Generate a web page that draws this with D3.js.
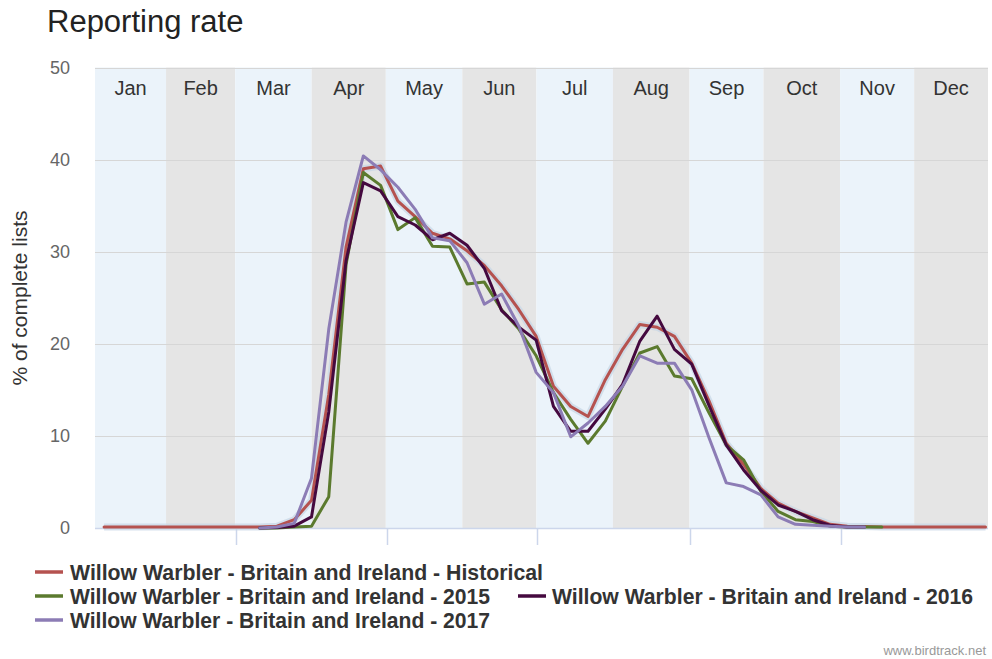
<!DOCTYPE html>
<html><head><meta charset="utf-8">
<script src="https://cdn.jsdelivr.net/npm/d3@7"></script>
<style>body{margin:0;background:#fff}svg{display:block}</style>
</head><body><svg id="c" width="992" height="659"></svg>
<script>
// ---------- data ----------
const months = ["Jan","Feb","Mar","Apr","May","Jun","Jul","Aug","Sep","Oct","Nov","Dec"];
const weeks = d3.range(1, 53); // 52 weekly periods
const yTicks = [0, 10, 20, 30, 40, 50];
const seriesNames = [
  "Willow Warbler - Britain and Ireland - Historical",
  "Willow Warbler - Britain and Ireland - 2015",
  "Willow Warbler - Britain and Ireland - 2016",
  "Willow Warbler - Britain and Ireland - 2017"
];
const historical = [0.1,0.1,0.1,0.1,0.1,0.1,0.1,0.1,0.1,0.1,0.2,0.9,3.0,14.5,30.5,39.0,39.3,35.5,33.8,32.0,31.4,30.1,28.5,26.3,23.7,20.8,15.4,13.2,12.1,16.1,19.4,22.1,21.8,20.8,17.9,13.8,9.2,6.9,4.3,2.7,1.8,1.1,0.4,0.2,0.15,0.1,0.1,0.1,0.1,0.1,0.1,0.1];
const y2015 = [null,null,null,null,null,null,null,null,null,0,0,0.1,0.2,3.4,28.6,38.6,37.2,32.4,33.7,30.6,30.5,26.5,26.7,23.7,21.6,18.7,14.7,11.8,9.2,11.6,15.4,19.0,19.7,16.5,16.2,12.5,9.0,7.4,4.0,1.8,0.9,0.7,0.2,0.1,0.1,0.1,null,null,null,null,null,null];
const y2016 = [null,null,null,null,null,null,null,null,null,0,0.05,0.2,1.2,12.6,29.0,37.5,36.6,33.8,32.9,31.3,32.0,30.7,28.2,23.6,21.8,20.4,13.2,10.5,10.5,12.9,15.6,20.3,23.0,19.4,17.8,13.3,9.0,6.3,4.1,2.5,1.8,0.9,0.3,0.1,0.1,null,null,null,null,null,null,null];
const y2017 = [null,null,null,null,null,null,null,null,null,0,0.1,0.5,5.4,21.6,33.2,40.4,38.9,37.0,34.6,31.5,31.2,28.8,24.3,25.4,21.9,16.9,14.7,9.9,11.4,13.2,15.4,18.7,17.9,17.9,15.0,9.8,4.9,4.5,3.6,1.2,0.4,0.3,0.2,0.1,0.1,null,null,null,null,null,null,null];
const seriesValues = [historical, y2015, y2016, y2017];
const seriesColors = ["#b5524f", "#5b7a2e", "#45093f", "#8c7cb5"];

// ---------- layout ----------
const svg = d3.select("#c");
const P = {left: 95, right: 988, top: 67.5, bottom: 528};
const DAY = 864e5;
const x = d3.scaleUtc()
  .domain([new Date(Date.UTC(2017,0,2,19,40)), new Date(Date.UTC(2017,11,30,12))])
  .range([P.left, P.right]);
const weekDate = w => new Date(Date.UTC(2017,0,1,12) + ((w - 1) * 7 + 5) * DAY);
const y = d3.scaleLinear().domain([0, 50]).range([P.bottom, P.top]);
const clampX = v => Math.max(P.left, Math.min(P.right, v));

// month bands
const bands = svg.append("g");
months.forEach((m, i) => {
  const x0 = clampX(x(new Date(Date.UTC(2017, i, 1))) - 1);
  const x1 = clampX(x(new Date(Date.UTC(2017, i + 1, 1))) - 1);
  bands.append("rect").attr("x", x0).attr("y", P.top).attr("width", x1 - x0)
    .attr("height", P.bottom - P.top).attr("fill", i % 2 === 0 ? "#ebf3fa" : "#e5e5e5");
  bands.append("text").attr("x", (x0 + x1) / 2).attr("y", 95)
    .attr("text-anchor", "middle").attr("font-family", "Liberation Sans, Arial, sans-serif")
    .attr("font-size", 20).attr("fill", "#333").text(m);
});

// grid
svg.append("g").selectAll("line").data(yTicks.filter(d => d > 0)).join("line")
  .attr("x1", P.left).attr("x2", P.right)
  .attr("y1", d => Math.round(y(d)) + 0.5).attr("y2", d => Math.round(y(d)) + 0.5)
  .attr("stroke", "#d6d6d6").attr("stroke-width", 1);

// y axis labels
svg.append("g").selectAll("text").data(yTicks).join("text")
  .attr("x", 70).attr("y", d => y(d) + 6).attr("text-anchor", "end")
  .attr("font-family", "Liberation Sans, Arial, sans-serif").attr("font-size", 18)
  .attr("fill", "#666").text(d => d);

// y title
svg.append("text").attr("transform", "translate(27,298) rotate(-90)")
  .attr("text-anchor", "middle").attr("font-family", "Liberation Sans, Arial, sans-serif")
  .attr("font-size", 21).attr("fill", "#333").text("% of complete lists");

// x axis line + ticks
svg.append("line").attr("x1", P.left).attr("x2", P.right).attr("y1", P.bottom + 0.5).attr("y2", P.bottom + 0.5)
  .attr("stroke", "#ccd6eb").attr("stroke-width", 1.5);
const tickDates = [2, 4, 6, 8, 10].map(m => new Date(Date.UTC(2017, m, 1)));
svg.append("g").selectAll("line").data(tickDates).join("line")
  .attr("x1", d => Math.round(x(d)) + 0.5).attr("x2", d => Math.round(x(d)) + 0.5)
  .attr("y1", P.bottom).attr("y2", P.bottom + 17)
  .attr("stroke", "#ccd6eb").attr("stroke-width", 1.5);

// title
svg.append("text").attr("x", 47).attr("y", 32).attr("font-family", "Liberation Sans, Arial, sans-serif")
  .attr("font-size", 31).attr("fill", "#222").text("Reporting rate");

// lines
const line = d3.line().defined(d => d != null)
  .x((d, i) => x(weekDate(weeks[i]))).y(d => y(d));
const lines = svg.append("g");
lines.append("path").attr("d", line(historical)).attr("fill", "none")
  .attr("stroke", "#c6d6e6").attr("stroke-opacity", 0.7).attr("stroke-width", 7)
  .attr("stroke-linejoin", "round");
seriesValues.forEach((vals, k) => {
  lines.append("path").attr("d", line(vals)).attr("fill", "none")
    .attr("stroke", seriesColors[k]).attr("stroke-width", 3)
    .attr("stroke-linejoin", "round").attr("stroke-linecap", "round");
});

// legend
const legendPos = [
  {sx: 35, tx: 70, cy: 572, len: 473},
  {sx: 35, tx: 70, cy: 596, len: 420},
  {sx: 518, tx: 552, cy: 596, len: 421},
  {sx: 35, tx: 70, cy: 620, len: 420}
];
const lg = svg.append("g");
seriesNames.forEach((n, k) => {
  const p = legendPos[k];
  lg.append("line").attr("x1", p.sx).attr("x2", p.sx + 28).attr("y1", p.cy).attr("y2", p.cy)
    .attr("stroke", seriesColors[k]).attr("stroke-width", 3.5);
  lg.append("text").attr("x", p.tx).attr("y", p.cy + 8)
    .attr("font-family", "Liberation Sans Narrow, Arial Narrow, Liberation Sans, sans-serif")
    .attr("font-weight", "bold").attr("font-size", 22).attr("fill", "#333")
    .attr("textLength", p.len).attr("lengthAdjust", "spacingAndGlyphs").text(n);
});

// credit
svg.append("text").attr("x", 986).attr("y", 655).attr("text-anchor", "end")
  .attr("font-family", "Liberation Sans Narrow, Liberation Sans, sans-serif").attr("font-size", 13)
  .attr("fill", "#999").text("www.birdtrack.net");
</script></body></html>
